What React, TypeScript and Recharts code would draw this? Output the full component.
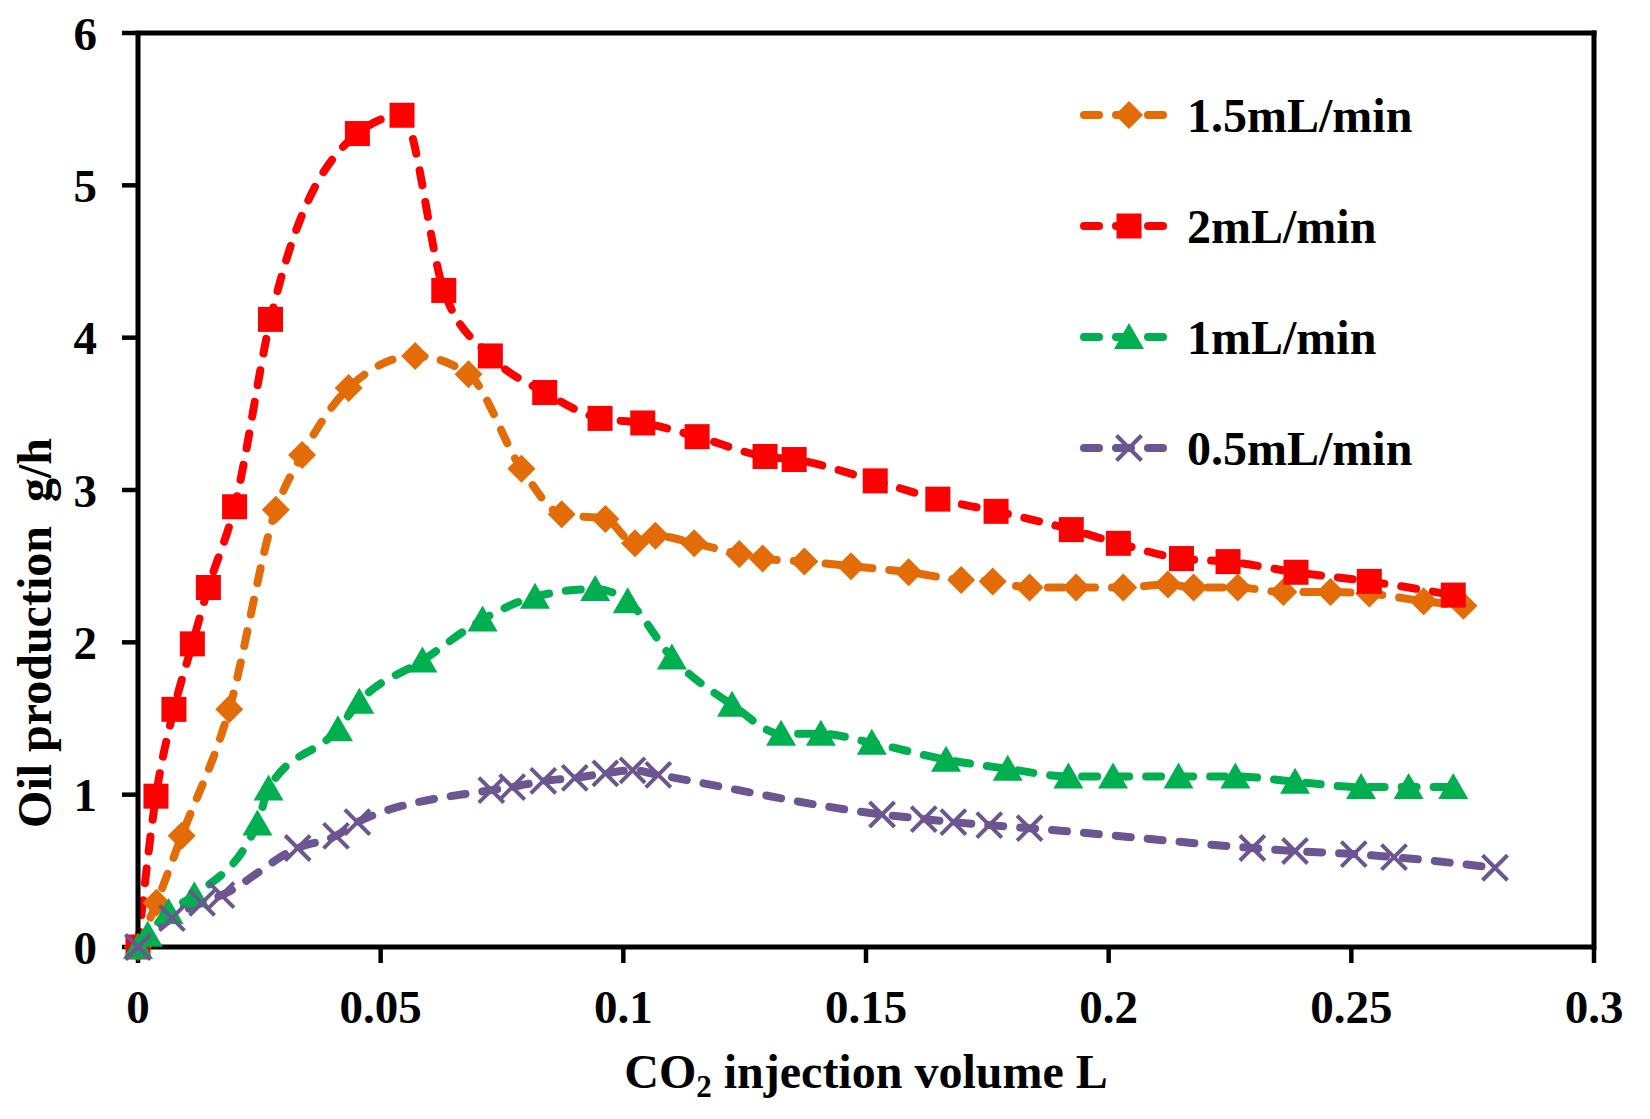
import { LineChart, Line, XAxis, YAxis, Legend, Label, ReferenceLine } from 'recharts'

// CO2 injection volume (L) and oil production (g/h)
const orangeX = [0, 0.0038, 0.009, 0.0188, 0.0284, 0.0338, 0.0434, 0.0571, 0.0681, 0.079, 0.0873, 0.0963, 0.1024, 0.1066, 0.1146, 0.1239, 0.1287, 0.1373, 0.1469, 0.1588, 0.1696, 0.1761, 0.1837, 0.1933, 0.203, 0.2122, 0.2175, 0.2266, 0.236, 0.2457, 0.2537, 0.2649, 0.2731]
const orangeY = [0, 0.29, 0.73, 1.56, 2.87, 3.23, 3.67, 3.88, 3.76, 3.14, 2.84, 2.81, 2.65, 2.7, 2.65, 2.58, 2.55, 2.53, 2.5, 2.46, 2.41, 2.4, 2.36, 2.36, 2.36, 2.38, 2.36, 2.36, 2.33, 2.33, 2.32, 2.27, 2.24]

const redX = [0, 0.0037, 0.0074, 0.0112, 0.0145, 0.0199, 0.0273, 0.0452, 0.0544, 0.063, 0.0726, 0.0838, 0.0952, 0.104, 0.1152, 0.1292, 0.1352, 0.1519, 0.1648, 0.1768, 0.1923, 0.202, 0.215, 0.2246, 0.2386, 0.2537, 0.271]
const redY = [0, 0.99, 1.56, 1.99, 2.36, 2.89, 4.12, 5.34, 5.46, 4.31, 3.88, 3.64, 3.47, 3.44, 3.35, 3.22, 3.2, 3.06, 2.94, 2.86, 2.74, 2.65, 2.55, 2.53, 2.46, 2.4, 2.31]

const greenX = [0, 0.002, 0.0063, 0.0116, 0.0246, 0.0269, 0.0412, 0.0456, 0.0586, 0.071, 0.0818, 0.0942, 0.1009, 0.11, 0.1224, 0.1325, 0.1407, 0.1512, 0.1665, 0.1792, 0.1917, 0.2009, 0.2144, 0.2261, 0.2384, 0.252, 0.2618, 0.271]
const greenY = [0, 0.08, 0.23, 0.34, 0.81, 1.04, 1.43, 1.61, 1.88, 2.15, 2.3, 2.35, 2.27, 1.9, 1.59, 1.4, 1.4, 1.34, 1.23, 1.17, 1.12, 1.12, 1.12, 1.12, 1.085, 1.05, 1.05, 1.05]

const purpleX = [0, 0.007, 0.0132, 0.0172, 0.0329, 0.0408, 0.0452, 0.0728, 0.0771, 0.0835, 0.09, 0.0963, 0.1019, 0.1072, 0.1533, 0.1619, 0.168, 0.1754, 0.1837, 0.2296, 0.2384, 0.2505, 0.2588, 0.2796]
const purpleY = [0, 0.19, 0.29, 0.34, 0.65, 0.73, 0.82, 1.03, 1.05, 1.09, 1.11, 1.14, 1.16, 1.13, 0.87, 0.84, 0.82, 0.8, 0.78, 0.65, 0.63, 0.61, 0.59, 0.52]

const xTicks = [0, 0.05, 0.1, 0.15, 0.2, 0.25, 0.3]
const yTicks = [0, 1, 2, 3, 4, 5, 6]

const FONT = "'Liberation Serif', 'Times New Roman', serif"

const toPoints = (xs: number[], ys: number[]) => xs.map((x, i) => ({ x, y: ys[i] }))

type Shape = 'diamond' | 'square' | 'triangle' | 'cross'

const series: { name: string; color: string; shape: Shape; data: { x: number; y: number }[] }[] = [
  { name: '1.5mL/min', color: '#E36C09', shape: 'diamond', data: toPoints(orangeX, orangeY) },
  { name: '2mL/min', color: '#FF0000', shape: 'square', data: toPoints(redX, redY) },
  { name: '1mL/min', color: '#00B050', shape: 'triangle', data: toPoints(greenX, greenY) },
  { name: '0.5mL/min', color: '#6C5691', shape: 'cross', data: toPoints(purpleX, purpleY) },
]

function Marker({ shape, cx, cy, color }: { shape: Shape; cx: number; cy: number; color: string }) {
  if (shape === 'diamond')
    return <path d={`M${cx},${cy - 14}L${cx + 14},${cy}L${cx},${cy + 14}L${cx - 14},${cy}Z`} fill={color} />
  if (shape === 'square') return <rect x={cx - 12.5} y={cy - 12.5} width={25} height={25} fill={color} />
  if (shape === 'triangle')
    return <path d={`M${cx},${cy - 14}L${cx + 15},${cy + 12}L${cx - 15},${cy + 12}Z`} fill={color} />
  return (
    <g stroke={color} strokeWidth={4}>
      <line x1={cx - 12.5} y1={cy - 12.5} x2={cx + 12.5} y2={cy + 12.5} />
      <line x1={cx - 12.5} y1={cy + 12.5} x2={cx + 12.5} y2={cy - 12.5} />
    </g>
  )
}

function renderLegend() {
  return (
    <svg width={420} height={440} style={{ overflow: 'visible' }}>
      {series.map((s, i) => {
        const cy = 35 + 111 * i
        return (
          <g key={s.name}>
            <line
              x1={24}
              y1={cy}
              x2={103}
              y2={cy}
              stroke={s.color}
              strokeWidth={8}
              strokeDasharray="15 17"
              strokeLinecap="round"
            />
            <Marker shape={s.shape} cx={69} cy={cy} color={s.color} />
            <text x={127} y={cy + 17} fontSize={48} fontWeight="bold" fontFamily={FONT} fill="#000">
              {s.name}
            </text>
          </g>
        )
      })}
    </svg>
  )
}

const tickStyle = { fontSize: 47, fontWeight: 'bold', fill: '#000', fontFamily: FONT }

export default function App() {
  return (
    <div style={{ position: 'absolute', left: 0, top: 0, width: 1650, height: 1119, background: '#fff' }}>
      <LineChart width={1650} height={1119} margin={{ top: 33, right: 56, bottom: 0, left: 0 }}>
        <XAxis
          type="number"
          dataKey="x"
          domain={[0, 0.3]}
          ticks={xTicks}
          interval={0}
          tickFormatter={v => String(v)}
          height={172}
          tick={tickStyle}
          tickSize={16}
          tickMargin={27}
          axisLine={{ stroke: '#000', strokeWidth: 5 }}
          tickLine={{ stroke: '#000', strokeWidth: 4.5 }}
        >
          <Label
            content={(props: any) => {
              const vb = props.viewBox
              return (
                <text
                  x={vb.x + vb.width / 2}
                  y={vb.y + 141}
                  textAnchor="middle"
                  fontSize={48}
                  fontWeight="bold"
                  fontFamily={FONT}
                  fill="#000"
                >
                  CO
                  <tspan fontSize={31} dy={9}>2</tspan>
                  <tspan dy={-9}> injection volume L</tspan>
                </text>
              )
            }}
          />
        </XAxis>
        <YAxis
          type="number"
          domain={[0, 6]}
          ticks={yTicks}
          interval={0}
          width={138}
          tick={tickStyle}
          tickSize={16}
          tickMargin={25}
          axisLine={{ stroke: '#000', strokeWidth: 5 }}
          tickLine={{ stroke: '#000', strokeWidth: 4.5 }}
        >
          <Label
            content={(props: any) => {
              const vb = props.viewBox
              const cx = 51
              const cy = vb.y + vb.height / 2 + 143
              return (
                <text
                  x={cx}
                  y={cy}
                  transform={`rotate(-90 ${cx} ${cy})`}
                  textAnchor="middle"
                  fontSize={48}
                  fontWeight="bold"
                  fontFamily={FONT}
                  fill="#000"
                  style={{ whiteSpace: 'pre' }}
                >
                  {'Oil production  g/h'}
                </text>
              )
            }}
          />
        </YAxis>
        <ReferenceLine y={6} stroke="#000" strokeWidth={5} strokeLinecap="square" />
        <ReferenceLine x={0.3} stroke="#000" strokeWidth={5} strokeLinecap="square" />
        <Legend
          layout="vertical"
          align="center"
          verticalAlign="middle"
          wrapperStyle={{ left: 1060, top: 80, width: 420, height: 440 }}
          content={renderLegend}
        />
        {series.map(s => (
          <Line
            key={s.name}
            name={s.name}
            data={s.data}
            dataKey="y"
            type="monotone"
            stroke={s.color}
            strokeWidth={8}
            strokeDasharray="15 17"
            strokeLinecap="round"
            isAnimationActive={false}
            dot={(p: any) => <Marker key={`${s.name}-${p.index}`} shape={s.shape} cx={p.cx} cy={p.cy} color={s.color} />}
            activeDot={false}
          />
        ))}
      </LineChart>
    </div>
  )
}
